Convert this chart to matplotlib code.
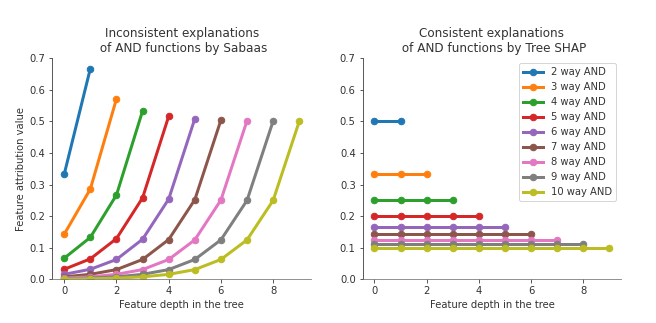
import numpy as np
import matplotlib
matplotlib.use("Agg")
import matplotlib.pyplot as plt

# values
labels = ["2 way AND", "3 way AND", "4 way AND", "5 way AND", "6 way AND",
          "7 way AND", "8 way AND", "9 way AND", "10 way AND"]

saabas = [
    [0.333, 0.667],
    [0.143, 0.286, 0.571],
    [0.067, 0.133, 0.267, 0.533],
    [0.032, 0.065, 0.129, 0.258, 0.516],
    [0.016, 0.032, 0.063, 0.127, 0.254, 0.508],
    [0.008, 0.016, 0.031, 0.063, 0.126, 0.252, 0.504],
    [0.004, 0.008, 0.016, 0.031, 0.063, 0.125, 0.251, 0.502],
    [0.002, 0.004, 0.008, 0.016, 0.031, 0.063, 0.125, 0.250, 0.501],
    [0.001, 0.002, 0.004, 0.008, 0.016, 0.031, 0.063, 0.125, 0.250, 0.500],
]

treeshap = [
    [0.500] * 2,
    [0.333] * 3,
    [0.250] * 4,
    [0.200] * 5,
    [0.167] * 6,
    [0.143] * 7,
    [0.125] * 8,
    [0.111] * 9,
    [0.100] * 10,
]

gray = "#333333"
plt.rcParams["text.color"] = gray
plt.rcParams["xtick.color"] = gray
plt.rcParams["ytick.color"] = gray
plt.rcParams["axes.labelcolor"] = gray

fig, (ax1, ax2) = plt.subplots(1, 2, figsize=(656 / 72, 323 / 72), dpi=72)

for vals, lab in zip(saabas, labels):
    ax1.plot(np.arange(len(vals)), vals, marker="o", linewidth=3, markersize=6.5, label=lab)
for vals, lab in zip(treeshap, labels):
    ax2.plot(np.arange(len(vals)), vals, marker="o", linewidth=3, markersize=6.5, label=lab)

ax1.set_title("Inconsistent explanations\n of AND functions by Sabaas", fontsize=12)
ax2.set_title("Consistent explanations\n of AND functions by Tree SHAP", fontsize=12)
ax1.set_ylabel("Feature attribution value", fontsize=10)
for ax in (ax1, ax2):
    ax.set_xlabel("Feature depth in the tree", fontsize=10)
    ax.set_ylim(0, 0.7)
    ax.set_xticks([0, 2, 4, 6, 8])
    ax.spines["top"].set_visible(False)
    ax.spines["right"].set_visible(False)
    ax.spines["left"].set_color(gray)
    ax.spines["bottom"].set_color("#777777")
    ax.tick_params(labelsize=10)
ax2.legend(fontsize=10, loc="upper right")

plt.subplots_adjust(left=0.08, right=0.947, bottom=0.135, top=0.82, wspace=0.2)
plt.savefig("out.png", dpi=72)
